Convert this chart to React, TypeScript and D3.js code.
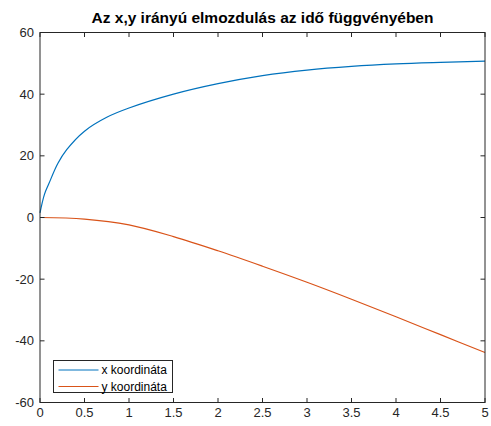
import React from "react";
import * as d3 from "d3";

const tX = [0, 0.05, 0.1, 0.2, 0.3, 0.5, 0.75, 1, 1.5, 2, 2.5, 3, 3.5, 4, 4.5, 5];
const xCoord = [1.5, 7.5, 11, 17.5, 22, 28, 32.5, 35.5, 40, 43.4, 46, 47.8, 49, 49.8, 50.3, 50.7];
const tY = [0, 0.5, 1, 1.5, 2, 2.5, 3, 3.5, 4, 4.5, 5];
const yCoord = [0, -0.5, -2.4, -6.2, -10.8, -15.8, -21.0, -26.5, -32.2, -38.0, -43.8];
const xTicks = [0, 0.5, 1, 1.5, 2, 2.5, 3, 3.5, 4, 4.5, 5];
const yTicks = [-60, -40, -20, 0, 20, 40, 60];
const seriesNames = ["x koordináta", "y koordináta"];
const title = "Az x,y irányú elmozdulás az idő függvényében";

const W = 491, H = 426;
const L = 40, R = 485, T = 32.5, B = 402.5;
const AX = "#262626";
const COLORS = ["#0072BD", "#D95319"];
const FONT = "'Liberation Sans', Arial, Helvetica, sans-serif";

export default function App() {
  const x = d3.scaleLinear().domain([0, 5]).range([L, R]);
  const y = d3.scaleLinear().domain([-60, 60]).range([B, T]);
  const line = d3.line<[number, number]>().x(d => x(d[0])).y(d => y(d[1])).curve(d3.curveCatmullRom.alpha(0.5));
  const s1 = line(tX.map((t, i) => [t, xCoord[i]] as [number, number]));
  const s2 = line(tY.map((t, i) => [t, yCoord[i]] as [number, number]));
  const tl = 4.5;
  const lg = { x: 53.5, y: 360.5, w: 119, h: 32 };
  return (
    <svg width={W} height={H} style={{ position: "fixed", left: 0, top: 0, background: "#fff" }} fontFamily={FONT}>
      <rect x={0} y={0} width={W} height={H} fill="#fff" />
      <path d={s1 || ""} fill="none" stroke={COLORS[0]} strokeWidth={1.2} />
      <path d={s2 || ""} fill="none" stroke={COLORS[1]} strokeWidth={1.2} />
      <rect x={L} y={T} width={R - L} height={B - T} fill="none" stroke={AX} strokeWidth={1} />
      {xTicks.map(t => (
        <g key={"x" + t}>
          <line x1={x(t)} x2={x(t)} y1={B} y2={B - tl} stroke={AX} />
          <line x1={x(t)} x2={x(t)} y1={T} y2={T + tl} stroke={AX} />
          <text x={x(t)} y={417} textAnchor="middle" fontSize={13} fill={AX}>{String(t)}</text>
        </g>
      ))}
      {yTicks.map(v => (
        <g key={"y" + v}>
          <line x1={L} x2={L + tl} y1={y(v)} y2={y(v)} stroke={AX} />
          <line x1={R} x2={R - tl} y1={y(v)} y2={y(v)} stroke={AX} />
          <text x={34} y={y(v)} dy="0.35em" textAnchor="end" fontSize={13} fill={AX}>{String(v)}</text>
        </g>
      ))}
      <text x={(L + R) / 2} y={23} textAnchor="middle" fontSize={15.5} fontWeight="bold" fill="#000">{title}</text>
      <rect x={lg.x} y={lg.y} width={lg.w} height={lg.h} fill="#fff" stroke={AX} strokeWidth={1} />
      {seriesNames.map((n, i) => (
        <g key={n}>
          <line x1={58.5} x2={98.5} y1={370 + i * 16.5} y2={370 + i * 16.5} stroke={COLORS[i]} strokeWidth={1.2} />
          <text x={101.5} y={370 + i * 16.5} dy="0.35em" fontSize={12} fill="#000">{n}</text>
        </g>
      ))}
    </svg>
  );
}
